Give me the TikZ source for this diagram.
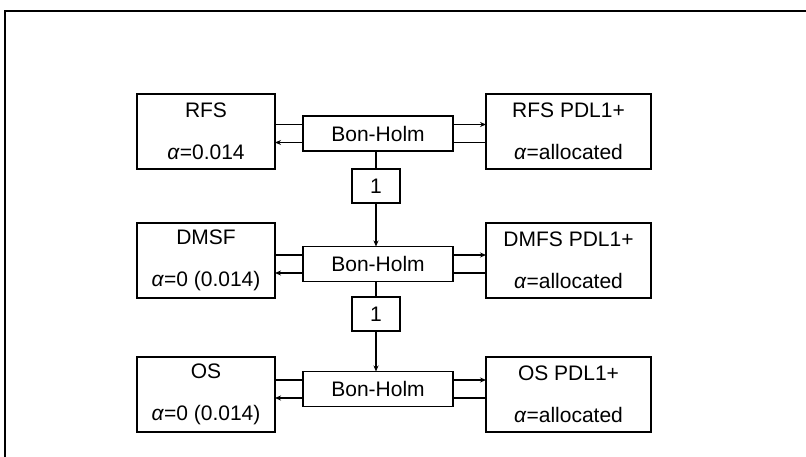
\documentclass[tikz,border=0pt]{standalone}
\usepackage{fontspec}
\setmainfont{Liberation Sans}
\usetikzlibrary{arrows.meta,positioning}
\tikzset{
  box/.style={draw, line width=1.5pt, inner sep=0pt, outer sep=0pt, align=center,
    font=\fontsize{21}{42}\selectfont},
  endpt/.style={box, minimum width=138pt, minimum height=75pt},
  subpt/.style={box, minimum width=165pt, minimum height=75pt},
  bonholm/.style={box, minimum width=150pt, minimum height=35pt},
  weight/.style={box, minimum width=48pt, minimum height=34pt},
  link/.style={line width=1.2pt},
  pass/.style={link, -{Stealth[length=6pt,width=5pt]}}
}
\newcommand{\alf}{\textit{α}}

\begin{document}
\begin{tikzpicture}[x=1pt,y=-1pt]
  \useasboundingbox (0,0) rectangle (806,457);
  % frame
  \draw[line width=2pt] (5,470) -- (5,11) -- (820,11);

  % endpoints
  \node[endpt] (rfs)  at (206,131.5) {RFS\\\alf=0.014};
  \node[endpt] (dmsf) at (206,260.5) {DMSF\\\alf=0 (0.014)};
  \node[endpt] (os)   at (206,394.5) {OS\\\alf=0 (0.014)};
  \node[subpt] (rfsp)  at (568.5,131.5) {RFS PDL1+\\\alf=allocated};
  \node[subpt] (dmfsp) at (568.5,260.5) {DMFS PDL1+\\\alf=allocated};
  \node[subpt] (osp)   at (568.5,394.5) {OS PDL1+\\\alf=allocated};

  % Bonferroni-Holm steps
  \node[bonholm] (bh1) at (378,133.5) {Bon-Holm};
  \node[bonholm] (bh2) at (378,264) {Bon-Holm};
  \node[bonholm] (bh3) at (378,389) {Bon-Holm};

  % weights
  \node[weight] (w1) at (376,186) {1};
  \node[weight] (w2) at (376,314) {1};

  \foreach \l/\b/\r in {rfs/bh1/rfsp, dmsf/bh2/dmfsp, os/bh3/osp} {
    \draw[link] ([yshift=9pt]\b.west) -- ([yshift=9pt]\b.west -| \l.east);
    \draw[pass] ([yshift=-9pt]\b.west) -- ([yshift=-9pt]\b.west -| \l.east);
    \draw[pass] ([yshift=9pt]\b.east) -- ([yshift=9pt]\b.east -| \r.west);
    \draw[link] ([yshift=-9pt]\b.east) -- ([yshift=-9pt]\b.east -| \r.west);
  }

  \draw[link] (w1.north) -- (w1.north |- bh1.south);
  \draw[pass] (w1.south) -- (w1.south |- bh2.north);
  \draw[link] (w2.north) -- (w2.north |- bh2.south);
  \draw[pass] (w2.south) -- (w2.south |- bh3.north);
\end{tikzpicture}
\end{document}
